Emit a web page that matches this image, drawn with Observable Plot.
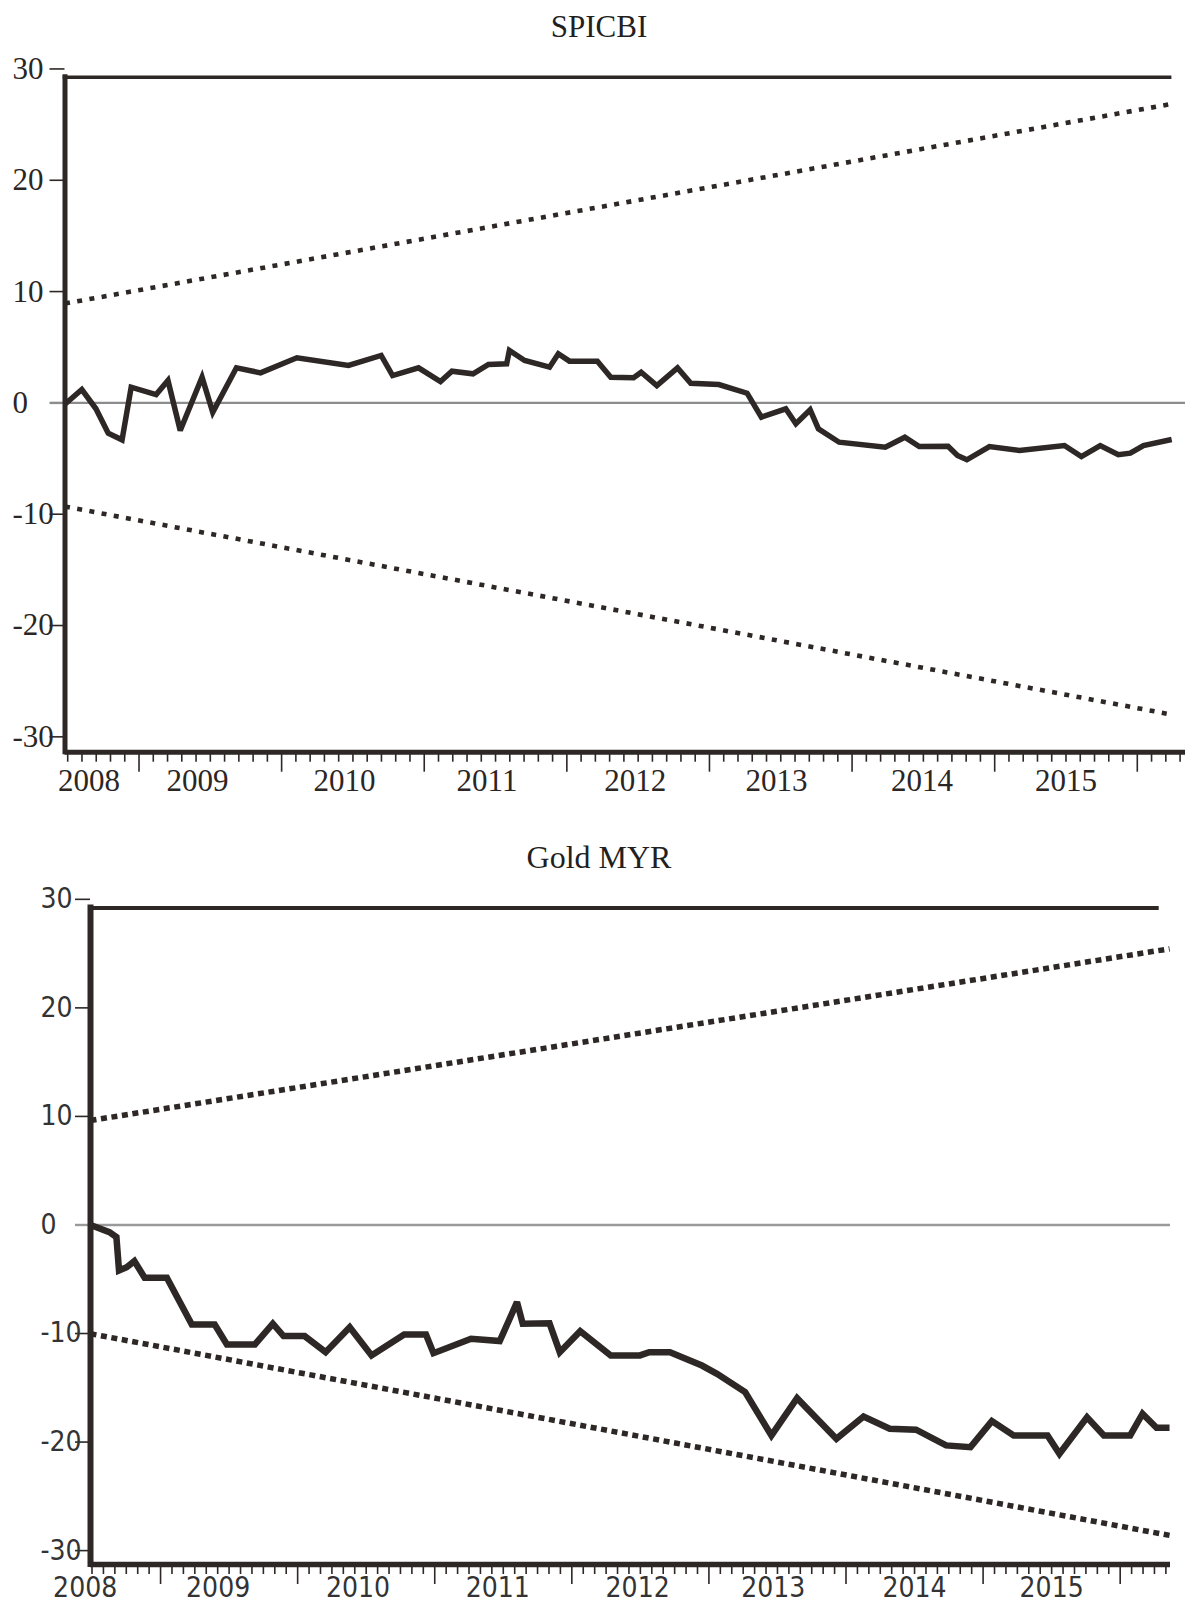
<!DOCTYPE html>
<html>
<head>
<meta charset="utf-8">
<script src="https://cdn.jsdelivr.net/npm/d3@7"></script>
<script src="https://cdn.jsdelivr.net/npm/@observablehq/plot@0.6"></script>
<style>
  html, body { margin: 0; padding: 0; background: #fff; width: 1189px; height: 1606px; overflow: hidden; }
  #page { position: relative; width: 1189px; height: 1606px; }
  .chart { position: absolute; left: 0; }
  .title { position: absolute; left: 0; width: 1198px; text-align: center; line-height: 1;
           font-family: "Liberation Serif", "DejaVu Serif", serif; color: #231f1e; }
</style>
</head>
<body>
<div id="page">
  <div class="chart" id="spicbi" style="top:0px"></div>
  <div class="chart" id="gold" style="top:830px"></div>
  <div class="title" style="top:11px;font-size:31px">SPICBI</div>
  <div class="title" style="top:841px;font-size:32px">Gold MYR</div>
</div>
<script>
// CUSUM of recursive residuals, SPICBI (observation time in decimal years)
const spicbiYear = [
  2008.484, 2008.599, 2008.698, 2008.784, 2008.881, 2008.945,
  2009.120, 2009.203, 2009.289, 2009.442, 2009.517, 2009.683, 2009.852,
  2010.107, 2010.469, 2010.698, 2010.778, 2010.960,
  2011.114, 2011.194, 2011.342, 2011.450, 2011.578, 2011.597, 2011.704, 2011.879, 2011.940,
  2012.018, 2012.214, 2012.308, 2012.468, 2012.521, 2012.631, 2012.776, 2012.869,
  2013.066, 2013.264, 2013.364, 2013.535, 2013.606, 2013.706, 2013.764, 2013.909,
  2014.233, 2014.370, 2014.471, 2014.673, 2014.739, 2014.805, 2014.963,
  2015.174, 2015.489, 2015.608, 2015.740, 2015.867, 2015.951,
  2016.043, 2016.241
];
const spicbiCusum = [
  -0.08, 1.20, -0.53, -2.72, -3.32, 1.41, 0.75, 2.01, -2.48, 2.31,
  -0.84, 3.15, 2.70, 4.05, 3.36, 4.26, 2.46, 3.15, 1.92, 2.85,
  2.61, 3.45, 3.51, 4.71, 3.81, 3.21, 4.41, 3.75, 3.75, 2.31,
  2.26, 2.76, 1.56, 3.15, 1.77, 1.65, 0.87, -1.28, -0.53, -1.88,
  -0.62, -2.33, -3.53, -3.98, -3.08, -3.92, -3.89, -4.73, -5.11, -3.92,
  -4.28, -3.83, -4.82, -3.83, -4.66, -4.52, -3.83, -3.29
];
// 5% significance bounds (straight lines: start and end values)
const spicbiBoundYear = [2008.481, 2016.241];
const spicbiUpper = [8.93, 26.86];
const spicbiLower = [-9.31, -28.0];

// CUSUM of recursive residuals, Gold MYR
const goldYear = [
  2008.489, 2008.627, 2008.678, 2008.697, 2008.753, 2008.809, 2008.884,
  2009.046, 2009.228, 2009.395, 2009.484, 2009.688, 2009.819, 2009.897,
  2010.051, 2010.204, 2010.380, 2010.539, 2010.777, 2010.936, 2010.991,
  2011.265, 2011.474, 2011.600, 2011.642, 2011.837, 2011.912,
  2012.061, 2012.284, 2012.497, 2012.565, 2012.716, 2012.949,
  2013.059, 2013.264, 2013.456, 2013.643, 2013.930,
  2014.128, 2014.319, 2014.511, 2014.730, 2014.908,
  2015.064, 2015.223, 2015.470, 2015.557, 2015.758, 2015.881,
  2016.073, 2016.163, 2016.265, 2016.360
];
const goldCusum = [
  0, -0.66, -1.12, -4.19, -3.89, -3.33, -4.86, -4.86, -9.17, -9.17,
  -11.01, -11.01, -9.10, -10.24, -10.24, -11.72, -9.42, -12.02, -10.09, -10.09,
  -11.81, -10.48, -10.70, -7.11, -9.10, -9.05, -11.72, -9.78, -12.02, -12.02,
  -11.72, -11.72, -12.95, -13.71, -15.40, -19.39, -15.96, -19.70, -17.64, -18.77,
  -18.86, -20.31, -20.47, -18.07, -19.39, -19.39, -21.08, -17.71, -19.39, -19.39,
  -17.39, -18.68, -18.68
];
const goldBoundYear = [2008.489, 2016.36];
const goldUpper = [9.63, 25.44];
const goldLower = [-10.02, -28.6];

// Axis labels
const yearLabels = ["2008", "2009", "2010", "2011", "2012", "2013", "2014", "2015"];
const spicbiLabelAt = [2008.65, 2009.41, 2010.44, 2011.44, 2012.48, 2013.47, 2014.49, 2015.50];
const goldLabelAt = [2008.45, 2009.42, 2010.44, 2011.46, 2012.48, 2013.47, 2014.50, 2015.50];
const yTickValues = [-30, -20, -10, 0, 10, 20, 30];

const ink = "#2d2725";

function cusumChart(o) {
  const [x0, x1] = o.xDomain;
  const [y0, y1] = o.yDomain;
  const series = o.year.map((t, i) => ({t, v: o.cusum[i]}));
  const upper = o.boundYear.map((t, i) => ({t, v: o.upper[i]}));
  const lower = o.boundYear.map((t, i) => ({t, v: o.lower[i]}));
  const labels = yearLabels.map((label, i) => ({at: o.labelAt[i], label}));

  // minor ticks between year boundaries, long ticks at each new year
  const minor = [], major = [];
  for (let k = Math.ceil(x0 * o.perYear - 1e-6); k <= Math.floor(x1 * o.perYear + 1e-6); k++) {
    (k % o.perYear === 0 ? major : minor).push(k / o.perYear);
  }

  const textStyle = {fontFamily: o.font, fontSize: o.fontSize, fill: o.textColor};

  return Plot.plot({
    width: 1189,
    height: o.height,
    marginTop: o.marginTop,
    marginBottom: o.marginBottom,
    marginLeft: o.marginLeft,
    marginRight: o.marginRight,
    style: {background: "transparent", overflow: "visible", fontStretch: o.stretch || "normal"},
    x: {type: "linear", domain: o.xDomain, axis: null},
    y: {domain: o.yDomain, axis: null},
    marks: [
      // zero reference line
      Plot.ruleY([0], {stroke: o.zeroColor, strokeWidth: 2.4}),
      // y ticks
      Plot.axisY({ticks: yTickValues.filter(d => d !== 0), tickSize: 15, stroke: ink, strokeWidth: 1.6, fill: "none", label: null}),
      Plot.axisY({ticks: [0], tickSize: 15, stroke: o.zeroColor, strokeWidth: 2.4, fill: "none", label: null}),
      Plot.text(yTickValues, {y: d => d, text: d => String(d), frameAnchor: "left", dx: o.yLabelDx, textAnchor: "start", ...textStyle}),
      // x ticks and year labels
      Plot.axisX({ticks: minor, tickSize: 10, stroke: ink, strokeWidth: 1.6, fill: "none", label: null}),
      Plot.axisX({ticks: major, tickSize: 20, stroke: ink, strokeWidth: 1.6, fill: "none", label: null}),
      Plot.text(labels, {x: "at", text: "label", frameAnchor: "bottom", dy: o.xLabelDy, ...textStyle}),
      // 5% significance bounds
      Plot.line(upper, {x: "t", y: "v", stroke: ink, strokeWidth: o.dotWidth, strokeDasharray: o.dash, strokeLinecap: "butt"}),
      Plot.line(lower, {x: "t", y: "v", stroke: ink, strokeWidth: o.dotWidth, strokeDasharray: o.dash, strokeLinecap: "butt"}),
      // CUSUM
      Plot.line(series, {x: "t", y: "v", stroke: ink, strokeWidth: o.lineWidth, strokeLinejoin: "miter", strokeMiterlimit: 3, strokeLinecap: "butt"}),
      // frame: top line, left and bottom axes
      Plot.ruleY([y1], {x1: x0, x2: o.frameTopEnd, stroke: ink, strokeWidth: o.topWidth, strokeLinecap: "square"}),
      Plot.ruleX([x0], {y1: y0, y2: y1, stroke: ink, strokeWidth: o.leftWidth, strokeLinecap: "square"}),
      Plot.ruleY([y0], {stroke: ink, strokeWidth: o.bottomWidth})
    ]
  });
}

document.getElementById("spicbi").append(cusumChart({
  year: spicbiYear, cusum: spicbiCusum,
  boundYear: spicbiBoundYear, upper: spicbiUpper, lower: spicbiLower,
  labelAt: spicbiLabelAt,
  xDomain: [2008.481, 2016.338], yDomain: [-31.38, 29.25], frameTopEnd: 2016.23,
  perYear: 10,
  height: 810, marginTop: 76.8, marginBottom: 58.3, marginLeft: 64.5, marginRight: 4,
  font: "'Liberation Serif', 'DejaVu Serif', serif", fontSize: 31, textColor: "#2b2624",
  yLabelDx: -52.5, xLabelDy: 38.5,
  zeroColor: "#8c8c8c",
  lineWidth: 5.5, dotWidth: 4.6, dash: "5 7.4",
  topWidth: 3.6, leftWidth: 5, bottomWidth: 5
}));

document.getElementById("gold").append(cusumChart({
  year: goldYear, cusum: goldCusum,
  boundYear: goldBoundYear, upper: goldUpper, lower: goldLower,
  labelAt: goldLabelAt,
  xDomain: [2008.489, 2016.367], yDomain: [-31.28, 29.21], frameTopEnd: 2016.27,
  perYear: 12,
  height: 800, marginTop: 77.4, marginBottom: 66, marginLeft: 90, marginRight: 19,
  font: "'Liberation Sans Narrow', 'DejaVu Sans Condensed', 'Arial Narrow', 'Liberation Sans', sans-serif",
  stretch: "condensed", fontSize: 28, textColor: "#333",
  yLabelDx: -50, xLabelDy: 32.5,
  zeroColor: "#9a9a9a",
  lineWidth: 6.5, dotWidth: 5.5, dash: "6 4.6",
  topWidth: 4, leftWidth: 6, bottomWidth: 5.5
}));
</script>
</body>
</html>
